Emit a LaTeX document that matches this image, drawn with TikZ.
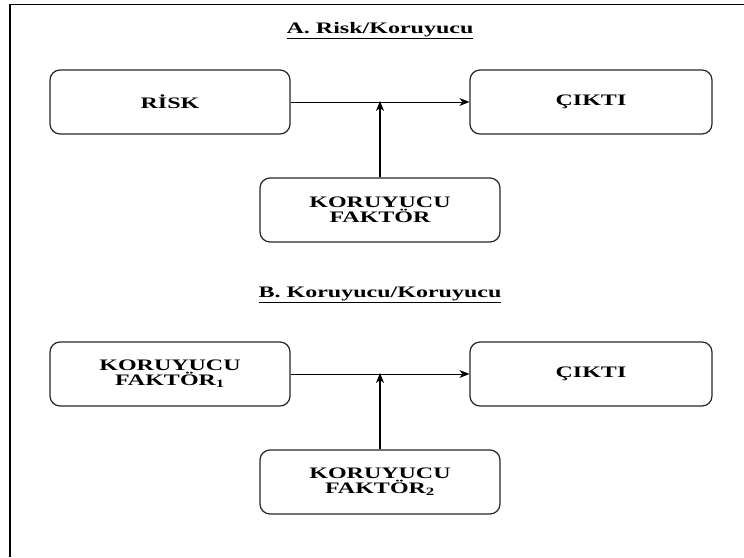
\documentclass[tikz,border=0pt]{standalone}
\usepackage{fontspec}
\setmainfont{Liberation Serif}[FakeStretch=1.5]
\usetikzlibrary{arrows.meta}

\begin{document}
\begin{tikzpicture}[x=1pt, y=-1pt,
  box/.style={draw=black!85, line width=1.2pt, rounded corners=10pt,
    minimum width=240pt, minimum height=64pt, align=center,
    font=\fontsize{16}{14.5}\selectfont\bfseries, inner sep=0pt},
  heading/.style={font=\fontsize{16}{14.5}\selectfont\bfseries, inner sep=0pt},
  link/.style={draw=black, line width=1pt, -{Stealth[length=10pt,width=8pt,inset=3pt]}},
  uplink/.style={link, line width=1.6pt},
  frame/.style={draw=black, line width=1.6pt}
]
  \useasboundingbox (0,0) rectangle (744,557);
  % outer frame (top and left edges)
  \draw[frame] (10,557) -- (10,4.5) -- (744,4.5);

  % Panel A
  \node[heading] (ta) at (380,31) {\underline{A. Risk/Koruyucu}};
  \node[box] (risk) at (170,102) {RİSK};
  \node[box, minimum width=242pt] (outa) at (591,102) {ÇIKTI};
  \node[box] (prota) at (380,210) {KORUYUCU\\FAKTÖR};
  \coordinate (ma) at (prota.north |- risk.east);
  \draw[link] (risk.east) -- (outa.west);
  \draw[uplink] (prota.north) -- ([yshift=1pt]ma);

  % Panel B
  \node[heading] (tb) at (380,295) {\underline{B. Koruyucu/Koruyucu}};
  \node[box] (protb1) at (170,374) {KORUYUCU\\FAKTÖR\textsubscript{1}};
  \node[box, minimum width=242pt] (outb) at (591,374) {ÇIKTI};
  \node[box] (protb2) at (380,482) {KORUYUCU\\FAKTÖR\textsubscript{2}};
  \coordinate (mb) at (protb2.north |- protb1.east);
  \draw[link] (protb1.east) -- (outb.west);
  \draw[uplink] (protb2.north) -- ([yshift=1pt]mb);
\end{tikzpicture}
\end{document}
